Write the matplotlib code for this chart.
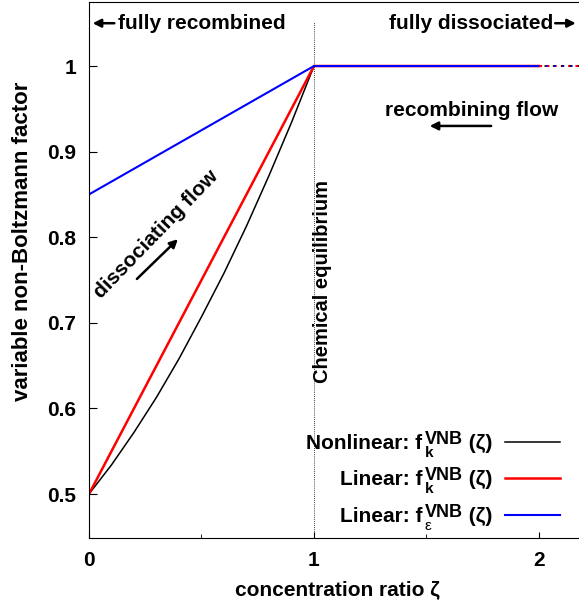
import numpy as np
import matplotlib
matplotlib.use("Agg")
import matplotlib.pyplot as plt
from matplotlib.transforms import IdentityTransform

plt.rcParams['font.family'] = ['Liberation Sans', 'DejaVu Sans']
plt.rcParams['font.weight'] = 'bold'

# data
zeta_nl = [0.0, 0.1, 0.2, 0.3, 0.4, 0.5, 0.6, 0.7, 0.8, 0.9, 1.0, 2.0]
f_nonlinear = [0.5, 0.534, 0.572, 0.613, 0.658, 0.707, 0.758, 0.813, 0.872, 0.934, 1.0, 1.0]
zeta_lin = [0.0, 1.0, 2.0]
f_lin_k = [0.5, 1.0, 1.0]
f_lin_eps = [0.85, 1.0, 1.0]
zeta_tail = [2.0, 2.18]
f_tail = [1.0, 1.0]

xticks = [0, 1, 2]
yticks = [0.5, 0.6, 0.7, 0.8, 0.9, 1.0]
ytick_labels = ['0.5', '0.6', '0.7', '0.8', '0.9', '1']

W, H = 579, 606
fig = plt.figure(figsize=(W/100, H/100), dpi=100)
ax = fig.add_axes([89/W, 1-538/H, 490/W, 536/H])

ax.plot(zeta_nl, f_nonlinear, color='black', lw=1.1)
ax.plot(zeta_lin, f_lin_k, color='red', lw=1.8)
ax.plot(zeta_lin, f_lin_eps, color='blue', lw=1.5)
ax.plot(zeta_tail, f_tail, color='red', lw=1.5, ls=(0, (1.5, 2)))
ax.plot(zeta_tail, f_tail, color='black', lw=1.2, ls=(1.7, (1.5, 3.5)))
ax.plot(zeta_tail, f_tail, color='blue', lw=1.2, ls=(0.8, (1.0, 4.0)))

ax.plot([1, 1], [0.4486, 1.051], color='black', lw=0.6, ls=(0, (1, 1.5)))

ax.set_xlim(0, 2.178)
ax.set_ylim(0.4486, 1.0748)
ax.spines['right'].set_visible(False)
ax.set_xticks(xticks)
ax.set_xticklabels([str(t) for t in xticks])
ax.set_xticks([0.5, 1.5], minor=True)
ax.set_yticks(yticks)
ax.set_yticklabels(ytick_labels)
ax.tick_params(axis='both', direction='in', labelsize=15, width=0.8)
ax.tick_params(axis='y', length=6, pad=9)
ax.tick_params(axis='x', length=4, pad=9)
ax.tick_params(axis='x', which='minor', direction='in', length=3, width=0.6)
for lab in ax.get_xticklabels() + ax.get_yticklabels():
    lab.set_fontweight('bold')

fig.text(337/W, 1-590/H, 'concentration ratio ζ', fontsize=15, fontweight='bold',
         ha='center', va='center')
fig.text(23/W, 1-241/H, 'variable non-Boltzmann factor', fontsize=16, fontweight='bold',
         ha='center', va='center', rotation=90)

arrow = dict(arrowstyle='-|>', color='black', lw=1.8, mutation_scale=12)
# annotations
ax.annotate('', xy=(0.004, 1.050), xytext=(0.125, 1.050), arrowprops=arrow)
ax.text(0.129, 1.050, 'fully recombined', fontsize=15, fontweight='bold', ha='left', va='center')
ax.annotate('', xy=(2.176, 1.050), xytext=(2.06, 1.050), arrowprops=arrow)
ax.text(2.062, 1.050, 'fully dissociated', fontsize=15, fontweight='bold', ha='right', va='center')

ax.text(1.702, 0.9486, 'recombining flow', fontsize=15, fontweight='bold', ha='center', va='center')
ax.annotate('', xy=(1.502, 0.930), xytext=(1.80, 0.930), arrowprops=arrow)

ax.text(0.298, 0.803, 'dissociating flow', fontsize=15, fontweight='bold', ha='center', va='center',
        rotation=46)
ax.annotate('', xy=(0.404, 0.800), xytext=(0.204, 0.749), arrowprops=arrow)

ax.text(1.04, 0.748, 'Chemical equilibrium', fontsize=14.5, fontweight='bold', ha='center', va='center',
        rotation=90)

# legend (composed text, right-aligned)
fig.canvas.draw()
renderer = fig.canvas.get_renderer()

def rich_right(x_right, y_base, main, sub, sub_weight, tail, color, lw):
    # y_base: baseline in pixels from top of image
    yb = H - y_base
    t_main = fig.text(0, yb, main, fontsize=15, fontweight='bold', ha='left', va='baseline',
                      transform=IdentityTransform())
    t_sup = fig.text(0, yb + 5, 'VNB', fontsize=13, fontweight='bold', ha='left', va='baseline',
                     transform=IdentityTransform())
    t_sub = fig.text(0, yb - 8, sub, fontsize=11, fontweight=sub_weight, ha='left', va='baseline',
                     transform=IdentityTransform())
    t_tail = fig.text(0, yb, tail, fontsize=15, fontweight='bold', ha='left', va='baseline',
                      transform=IdentityTransform())
    w_main = t_main.get_window_extent(renderer).width
    w_sup = t_sup.get_window_extent(renderer).width
    w_sub = t_sub.get_window_extent(renderer).width
    w_tail = t_tail.get_window_extent(renderer).width
    gap = 2
    total = w_main + gap + max(w_sup, w_sub) + w_tail
    x0 = x_right - total
    t_main.set_x(x0)
    t_sup.set_x(x0 + w_main + gap)
    t_sub.set_x(x0 + w_main + gap)
    t_tail.set_x(x0 + w_main + gap + max(w_sup, w_sub))
    ax_y = (538 - (y_base - 7)) / 536
    ax.plot([(505-89)/490, (560-89)/490], [ax_y, ax_y], transform=ax.transAxes, color=color, lw=lw)

labels_main = ['Nonlinear: f', 'Linear: f', 'Linear: f']
labels_sub = ['k', 'k', 'ε']
sub_weights = ['bold', 'bold', 'normal']
colors = ['black', 'red', 'blue']
widths = [1.1, 1.8, 1.5]
baselines = [449, 485, 522]
for m, s, sw, c, w, yb in zip(labels_main, labels_sub, sub_weights, colors, widths, baselines):
    rich_right(492, yb, m, s, sw, ' (ζ)', c, w)

fig.savefig('out.png', dpi=100)
